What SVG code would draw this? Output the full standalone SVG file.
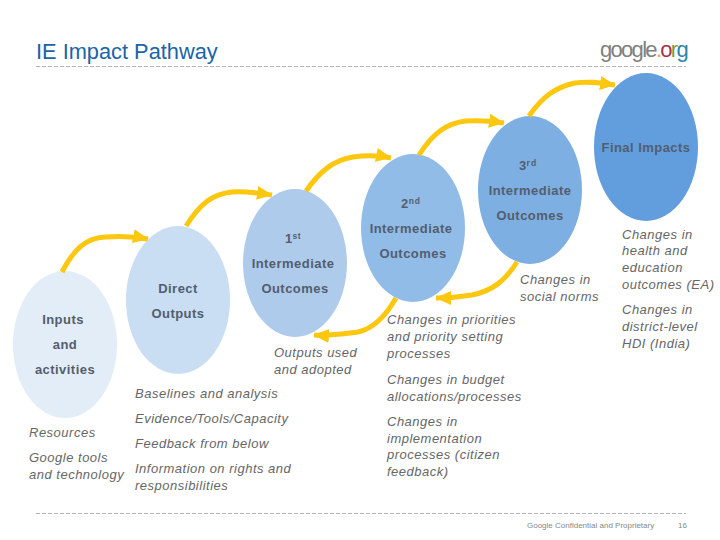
<svg xmlns="http://www.w3.org/2000/svg" width="720" height="540" viewBox="0 0 720 540">
<defs>
<marker id="ah" markerUnits="userSpaceOnUse" markerWidth="18" markerHeight="18" refX="15" refY="9" orient="auto"><path d="M0 2 L15.500 9 L0 16 Z" fill="#fcc70f"/></marker>
</defs>
<style>
text{font-family:"Liberation Sans",Arial,sans-serif}
.n{font-size:13px;font-weight:bold;letter-spacing:.45px;fill:#525e6e;text-anchor:middle}
.sup{font-size:8.500px;font-weight:bold;fill:#525e6e}
.i{font-size:13px;font-style:italic;letter-spacing:.5px;fill:#666}
.c{fill:none;stroke:#fcc70f;stroke-width:5;marker-end:url(#ah)}
.d{stroke:#b5b5b5;stroke-width:1;stroke-dasharray:4 2}
</style>
<rect width="720" height="540" fill="#fff"/>
<text x="36" y="59" font-size="21.800" fill="#1a64a8">IE Impact Pathway</text>
<text x="600" y="57" font-size="22" letter-spacing="-1.700" fill="#808080">google<tspan fill="#e8a33d">.</tspan><tspan fill="#a8324f">o</tspan><tspan fill="#7d9a3a">r</tspan><tspan fill="#2a86a8">g</tspan></text>
<line class="d" x1="36" y1="66.500" x2="686" y2="66.500"/>
<line class="d" x1="36" y1="513.500" x2="686" y2="513.500"/>
<g id="n-inputs"><ellipse cx="65" cy="344.500" rx="52" ry="73.500" fill="#e3edf8"/>
<text class="n" x="63" y="324">Inputs</text><text class="n" x="65" y="349">and</text><text class="n" x="65" y="374">activities</text></g>
<g id="n-direct"><ellipse cx="178" cy="300" rx="52" ry="74" fill="#c9ddf3"/>
<text class="n" x="178" y="293">Direct</text><text class="n" x="178" y="318">Outputs</text></g>
<g id="n-first"><ellipse cx="295" cy="263" rx="52" ry="74" fill="#aecbec"/>
<text class="n" x="293" y="243">1<tspan class="sup" dy="-4">st</tspan></text><text class="n" x="293" y="268">Intermediate</text><text class="n" x="295" y="293">Outcomes</text></g>
<g id="n-second"><ellipse cx="413" cy="228" rx="52" ry="74" fill="#92bce8"/>
<text class="n" x="411" y="208">2<tspan class="sup" dy="-4" letter-spacing="1">nd</tspan></text><text class="n" x="411" y="233">Intermediate</text><text class="n" x="413" y="258">Outcomes</text></g>
<g id="n-third"><ellipse cx="530" cy="190" rx="52" ry="74" fill="#7dafe3"/>
<text class="n" x="528" y="170">3<tspan class="sup" dy="-4" letter-spacing="1">rd</tspan></text><text class="n" x="530" y="195">Intermediate</text><text class="n" x="530" y="220">Outcomes</text></g>
<g id="n-final"><ellipse cx="646" cy="147" rx="52" ry="74" fill="#629edd"/>
<text class="n" x="646" y="152">Final Impacts</text></g>
<g id="connectors">
<path class="c" d="M62 272 C74 249 86 238 105 237 C118 236 132 236 148 239"/>
<path class="c" d="M186 226 C200 204 212 194 232 192 C247 191 258 193 272 195"/>
<path class="c" d="M306 191 C320 171 334 160 353 157 C367 155 377 155 391 158"/>
<path class="c" d="M419 155 C433 133 447 123 466 121 C481 120 491 121 504 123"/>
<path class="c" d="M529 116 C543 96 556 87 575 83 C590 81 600 83 615 85"/>
<path class="c" d="M396 298 C384 319 372 329 358 332 C342 334 328 336 314 335"/>
<path class="c" d="M517 262 C505 281 492 291 472 295 C460 297 448 298 436 298"/>
</g>
<g class="i" id="labels">
<text class="i" x="29" y="437">Resources</text>
<text class="i" x="29" y="462">Google tools</text><text class="i" x="29" y="479">and technology</text>
<text class="i" x="135" y="398">Baselines and analysis</text>
<text class="i" x="135" y="423">Evidence/Tools/Capacity</text>
<text class="i" x="135" y="448">Feedback from below</text>
<text class="i" x="135" y="473">Information on rights and</text><text class="i" x="135" y="490">responsibilities</text>
<text class="i" x="274" y="357">Outputs used</text><text class="i" x="274" y="374">and adopted</text>
<text class="i" x="387" y="324">Changes in priorities</text><text class="i" x="387" y="341">and priority setting</text><text class="i" x="387" y="358">processes</text>
<text class="i" x="387" y="384">Changes in budget</text><text class="i" x="387" y="401">allocations/processes</text>
<text class="i" x="387" y="426">Changes in</text><text class="i" x="387" y="443">implementation</text><text class="i" x="387" y="459">processes (citizen</text><text class="i" x="387" y="476">feedback)</text>
<text class="i" x="520" y="284">Changes in</text><text class="i" x="520" y="301">social norms</text>
<text class="i" x="622" y="239">Changes in</text><text class="i" x="622" y="255">health and</text><text class="i" x="622" y="272">education</text><text class="i" x="622" y="289">outcomes (EA)</text>
<text class="i" x="622" y="314">Changes in</text><text class="i" x="622" y="331">district-level</text><text class="i" x="622" y="348">HDI (India)</text>
</g>
<text x="527" y="528" font-size="8" fill="#888">Google Confidential and Proprietary</text>
<text x="678" y="528" font-size="8" fill="#888">16</text>
</svg>
